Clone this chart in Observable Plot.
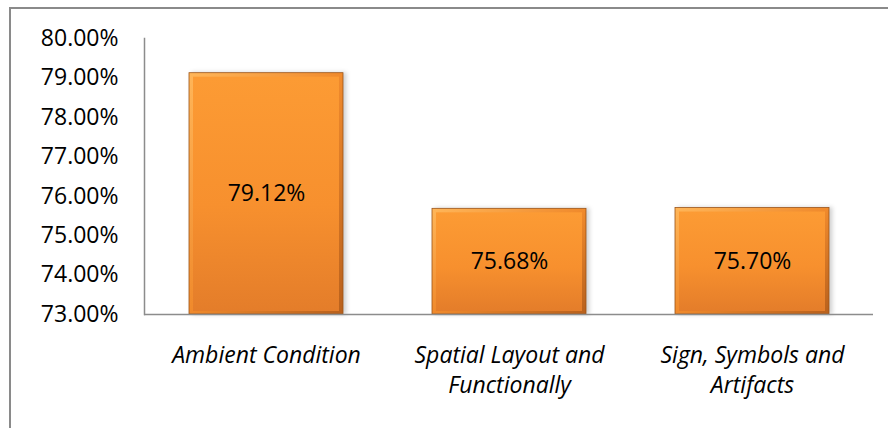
<!DOCTYPE html>
<html><head><meta charset="utf-8">
<script src="https://cdn.jsdelivr.net/npm/d3@7"></script>
<script src="https://cdn.jsdelivr.net/npm/@observablehq/plot@0.6"></script>
<style>
body{margin:0;background:#fff;}
#frame{position:absolute;left:9px;top:7px;width:900px;height:440px;border-left:2px solid #8a8a8a;border-top:2px solid #8a8a8a;}
#chart{position:absolute;left:0;top:0;}
.barbase{filter:drop-shadow(3px 0px 2px rgba(0,0,0,0.18));}
</style></head><body><div id="frame"></div><div id="chart"></div>
<script>
const categories = ["Ambient Condition", "Spatial Layout and Functionally", "Sign, Symbols and Artifacts"];
const values = [79.12, 75.68, 75.70];
const yTicks = [73, 74, 75, 76, 77, 78, 79, 80];
const xLabels = ["Ambient Condition", "Spatial Layout and\nFunctionally", "Sign, Symbols and\nArtifacts"];
const yBase = 73;
const data = categories.map((c, i) => ({category: c, value: values[i], label: xLabels[i]}));

const chart = Plot.plot({
  width: 888, height: 428,
  marginLeft: 144, marginRight: 15, marginTop: 38, marginBottom: 114,
  style: {fontFamily: "'Open Sans', sans-serif", fontSize: "23px", background: "transparent", color: "#000", overflow: "visible"},
  x: {domain: categories, paddingInner: 0.367, paddingOuter: 0.18},
  y: {domain: [73, 80]},
  marks: [
    Plot.barY(data, {x: "category", y1: yBase, y2: "value", fill: "url(#edgeGrad)", stroke: "#9c5418", strokeWidth: 0.8, className: "barbase"}),
    Plot.barY(data, {x: "category", y1: yBase, y2: "value", inset: 4, insetBottom: 3, fill: "url(#faceGrad)"}),
    Plot.frame({anchor: "left", stroke: "#8c8c8c", strokeWidth: 1.5}),
    Plot.ruleY([yBase], {stroke: "#8c8c8c", strokeWidth: 1.5}),
    Plot.axisY({ticks: yTicks, tickSize: 0, tickPadding: 26, tickFormat: d => d.toFixed(2) + "%", fontSize: 23, fill: "#000", label: null}),
    Plot.text(data, {x: "category", y: d => (yBase + d.value) / 2, text: d => d.value.toFixed(2) + "%", fontSize: 23, fill: "#000"}),
    Plot.axisX({tickSize: 0, tickPadding: 27, tickFormat: d => xLabels[categories.indexOf(d)], fontStyle: "italic", fontSize: 23, fill: "#000", lineAnchor: "top", lineHeight: 1.32, label: null})
  ]
});

const ns = "http://www.w3.org/2000/svg";
const defs = document.createElementNS(ns, "defs");
defs.innerHTML = `
<linearGradient id="edgeGrad" x1="0" y1="0" x2="1" y2="1">
  <stop offset="0" stop-color="#ffb659"/>
  <stop offset="0.5" stop-color="#f08a2c"/>
  <stop offset="1" stop-color="#b8601c"/>
</linearGradient>
<linearGradient id="faceGrad" x1="0" y1="0" x2="0" y2="1">
  <stop offset="0" stop-color="#fc9b34"/>
  <stop offset="0.55" stop-color="#f7902e"/>
  <stop offset="1" stop-color="#e47d2a"/>
</linearGradient>`;
chart.insertBefore(defs, chart.firstChild);
document.getElementById("chart").appendChild(chart);
</script>
</body></html>
